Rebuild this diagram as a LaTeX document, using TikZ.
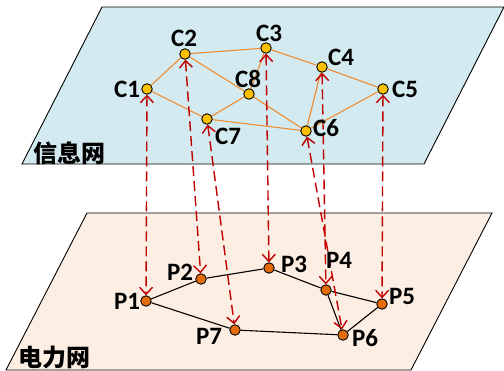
\documentclass[tikz,border=0pt]{standalone}
\usepackage{fontspec}
\usetikzlibrary{arrows.meta,backgrounds}
\newfontfamily\lblfont{Carlito}
\newfontfamily\cjkfont{Noto Sans CJK SC}
\definecolor{topfill}{RGB}{210,234,240}
\definecolor{botfill}{RGB}{253,238,228}
\definecolor{cedge}{RGB}{240,140,50}
\definecolor{cfill}{RGB}{255,192,0}
\definecolor{pfill}{RGB}{228,108,10}
\definecolor{link}{RGB}{192,0,0}
\tikzset{
  plane/.style={draw=black, line width=0.9pt},
  cnode/.style={circle, draw=black, line width=0.9pt, fill=cfill, minimum size=10.5pt, inner sep=0pt},
  pnode/.style={circle, draw=black, line width=0.9pt, fill=pfill, minimum size=10.5pt, inner sep=0pt},
  cline/.style={draw=cedge, line width=1.1pt},
  pline/.style={draw=black, line width=1.1pt},
  lbl/.style={font=\lblfont\bfseries\fontsize{25}{25}\selectfont, inner sep=0pt},
  cjklbl/.style={font=\cjkfont\bfseries\fontsize{24}{24}\selectfont, inner sep=0pt},
  linkarrow/.style={draw=link, line width=1.4pt, dash pattern=on 10pt off 5pt,
    {Straight Barb[length=7pt,width=13pt,line width=1.4pt]}-{Straight Barb[length=7pt,width=13pt,line width=1.4pt]}}
}
\begin{document}
\begin{tikzpicture}[x=1pt,y=-1pt]
\useasboundingbox (0,0) rectangle (504,371);
% network names
\node[cjklbl] (info) at (70,153) {信息网};
\node[cjklbl] (power) at (55,357) {电力网};
% top nodes
\node[cnode] (C1) at (147,89) {};
\node[cnode] (C2) at (185,54) {};
\node[cnode] (C3) at (266,48) {};
\node[cnode] (C4) at (322,67) {};
\node[cnode] (C5) at (383,89) {};
\node[cnode] (C6) at (306,131) {};
\node[cnode] (C7) at (207,119) {};
\node[cnode] (C8) at (249,94) {};
% bottom nodes
\node[pnode] (P1) at (146,301) {};
\node[pnode] (P2) at (201,279) {};
\node[pnode] (P3) at (269,268) {};
\node[pnode] (P4) at (326,290) {};
\node[pnode] (P5) at (382,304) {};
\node[pnode] (P6) at (343,335) {};
\node[pnode] (P7) at (235,330) {};
% labels
\node[lbl] (C1l) at (127,89) {C1};
\node[lbl] (C2l) at (184,38) {C2};
\node[lbl] (C3l) at (269,33) {C3};
\node[lbl] (C4l) at (341,57) {C4};
\node[lbl] (C5l) at (405,89) {C5};
\node[lbl] (C6l) at (326,128) {C6};
\node[lbl] (C7l) at (228,136) {C7};
\node[lbl] (C8l) at (248,79) {C8};
\node[lbl] (P1l) at (127,301) {P1};
\node[lbl] (P2l) at (180,272) {P2};
\node[lbl] (P3l) at (294,264) {P3};
\node[lbl] (P4l) at (339,260) {P4};
\node[lbl] (P5l) at (402,296) {P5};
\node[lbl] (P6l) at (365,338) {P6};
\node[lbl] (P7l) at (209,336) {P7};
\begin{scope}[on background layer]
% planes
\path[plane, fill=topfill] (102,7) -- (504,7) -- (424,164) -- (22,164) -- cycle;
\path[plane, fill=botfill] (87,213) -- (492,213) -- (411,370) -- (6,370) -- cycle;
% top edges
\foreach \a/\b in {C1/C2,C2/C3,C3/C4,C4/C5,C2/C8,C8/C3,C1/C7,C7/C8,C8/C6,C7/C6,C6/C4,C6/C5}
  \draw[cline] (\a) -- (\b);
% bottom edges
\foreach \a/\b in {P1/P2,P2/P3,P3/P4,P4/P5,P4/P6,P5/P6,P1/P7,P7/P6}
  \draw[pline] (\a) -- (\b);
% links
\foreach \i in {1,...,7}
  \draw[linkarrow] (C\i) -- (P\i);
\end{scope}
\end{tikzpicture}
\end{document}
